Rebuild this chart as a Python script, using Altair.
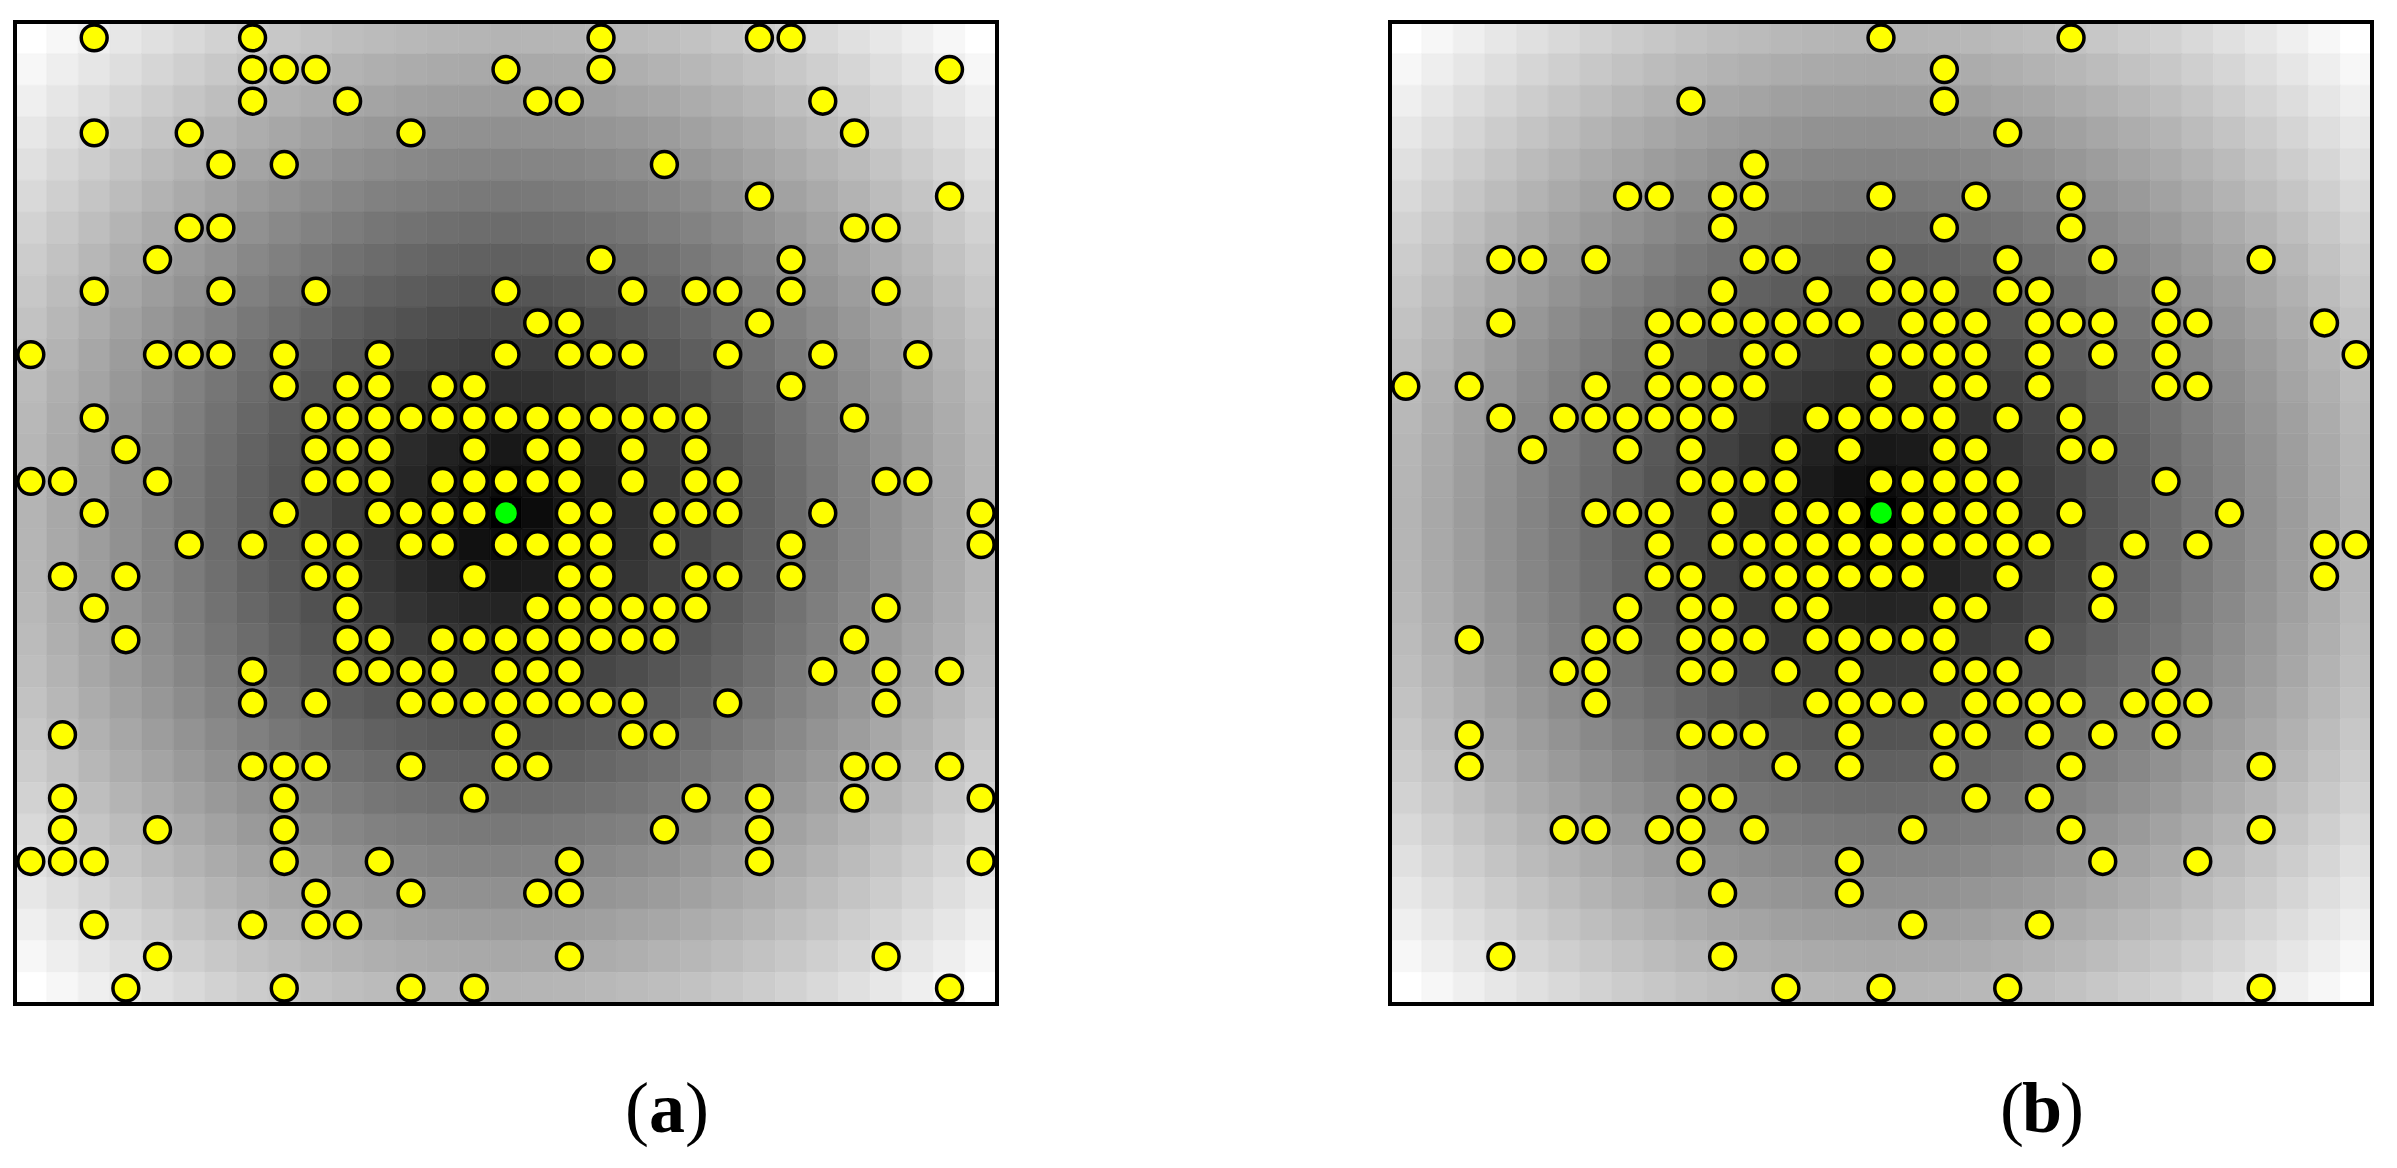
import altair as alt
import numpy as np
import pandas as pd

N = 31
CENTER = 15

# occupied cells per row (column indices), panel (a)
A_ROWS = [
    [2, 7, 18, 23, 24],
    [7, 8, 9, 15, 18, 29],
    [7, 10, 16, 17, 25],
    [2, 5, 12, 26],
    [6, 8, 20],
    [23, 29],
    [5, 6, 26, 27],
    [4, 18, 24],
    [2, 6, 9, 15, 19, 21, 22, 24, 27],
    [16, 17, 23],
    [0, 4, 5, 6, 8, 11, 15, 17, 18, 19, 22, 25, 28],
    [8, 10, 11, 13, 14, 24],
    [2, 9, 10, 11, 12, 13, 14, 15, 16, 17, 18, 19, 20, 21, 26],
    [3, 9, 10, 11, 14, 16, 17, 19, 21],
    [0, 1, 4, 9, 10, 11, 13, 14, 15, 16, 17, 19, 21, 22, 27, 28],
    [2, 8, 11, 12, 13, 14, 17, 18, 20, 21, 22, 25, 30],
    [5, 7, 9, 10, 12, 13, 15, 16, 17, 18, 20, 24, 30],
    [1, 3, 9, 10, 14, 17, 18, 21, 22, 24],
    [2, 10, 16, 17, 18, 19, 20, 21, 27],
    [3, 10, 11, 13, 14, 15, 16, 17, 18, 19, 20, 26],
    [7, 10, 11, 12, 13, 15, 16, 17, 25, 27, 29],
    [7, 9, 12, 13, 14, 15, 16, 17, 18, 19, 22, 27],
    [1, 15, 19, 20],
    [7, 8, 9, 12, 15, 16, 26, 27, 29],
    [1, 8, 14, 21, 23, 26, 30],
    [1, 4, 8, 20, 23],
    [0, 1, 2, 8, 11, 17, 23, 30],
    [9, 12, 16, 17],
    [2, 7, 9, 10],
    [4, 17, 27],
    [3, 8, 12, 14, 29],
]

# occupied cells per row (column indices), panel (b)
B_ROWS = [
    [15, 21],
    [17],
    [9, 17],
    [19],
    [11],
    [7, 8, 10, 11, 15, 18, 21],
    [10, 17, 21],
    [3, 4, 6, 11, 12, 15, 19, 22, 27],
    [10, 13, 15, 16, 17, 19, 20, 24],
    [3, 8, 9, 10, 11, 12, 13, 14, 16, 17, 18, 20, 21, 22, 24, 25, 29],
    [8, 11, 12, 15, 16, 17, 18, 20, 22, 24, 30],
    [0, 2, 6, 8, 9, 10, 11, 15, 17, 18, 20, 24, 25],
    [3, 5, 6, 7, 8, 9, 10, 13, 14, 15, 16, 17, 19, 21],
    [4, 7, 9, 12, 14, 17, 18, 21, 22],
    [9, 10, 11, 12, 15, 16, 17, 18, 19, 24],
    [6, 7, 8, 10, 12, 13, 14, 16, 17, 18, 19, 21, 26],
    [8, 10, 11, 12, 13, 14, 15, 16, 17, 18, 19, 20, 23, 25, 29, 30],
    [8, 9, 11, 12, 13, 14, 15, 16, 19, 22, 29],
    [7, 9, 10, 12, 13, 17, 18, 22],
    [2, 6, 7, 9, 10, 11, 13, 14, 15, 16, 17, 20],
    [5, 6, 9, 10, 12, 14, 17, 18, 19, 24],
    [6, 13, 14, 15, 16, 18, 19, 20, 21, 23, 24, 25],
    [2, 9, 10, 11, 14, 17, 18, 20, 22, 24],
    [2, 12, 14, 17, 21, 27],
    [9, 10, 18, 20],
    [5, 6, 8, 9, 11, 16, 21, 27],
    [9, 14, 22, 25],
    [10, 14],
    [16, 20],
    [3, 10],
    [12, 15, 19, 27],
]

PANEL_LETTERS = ["a", "b"]

SIZE = 982
DMAX = float(np.sqrt(2) * CENTER)

# grid of cells, grey level from distance to the centre cell
rr, cc = np.meshgrid(np.arange(N), np.arange(N), indexing="ij")
grid = pd.DataFrame({"col": cc.ravel(), "row": rr.ravel()})
grid["dist"] = np.sqrt((grid["row"] - CENTER) ** 2 + (grid["col"] - CENTER) ** 2)
grid["x0"] = grid["col"] - 0.5
grid["x1"] = grid["col"] + 0.5
grid["y0"] = grid["row"] - 0.5
grid["y1"] = grid["row"] + 0.5

xs = alt.Scale(domain=[-0.5, N - 0.5], nice=False, zero=False)
ys = alt.Scale(domain=[-0.5, N - 0.5], nice=False, zero=False, reverse=True)
gray = alt.Scale(domain=[0, DMAX], range=["#000000", "#ffffff"], interpolate="rgb")


def points_df(rows):
    recs = []
    for r, cols in enumerate(rows):
        for c in cols:
            recs.append({"row": r, "col": c})
    return pd.DataFrame(recs)


def panel(rows, letter):
    heat = alt.Chart(grid).mark_rect(strokeWidth=0.6).encode(
        x=alt.X("x0:Q", scale=xs, axis=None),
        x2="x1:Q",
        y=alt.Y("y0:Q", scale=ys, axis=None),
        y2="y1:Q",
        color=alt.Color("dist:Q", scale=gray, legend=None),
        stroke=alt.Stroke("dist:Q", scale=gray, legend=None),
    )
    pts = alt.Chart(points_df(rows)).mark_circle(
        size=670, fill="#ffff00", stroke="#000000", strokeWidth=3.5, opacity=1
    ).encode(
        x=alt.X("col:Q", scale=xs, axis=None),
        y=alt.Y("row:Q", scale=ys, axis=None),
    )
    ctr = alt.Chart(pd.DataFrame({"row": [CENTER], "col": [CENTER]})).mark_circle(
        size=465, fill="#00ff00", opacity=1
    ).encode(
        x=alt.X("col:Q", scale=xs, axis=None),
        y=alt.Y("row:Q", scale=ys, axis=None),
    )
    frame = alt.Chart(pd.DataFrame({"k": [0]})).mark_rect(
        filled=False, stroke="#000000", strokeWidth=4
    ).encode(
        x=alt.value(0), x2=alt.value(SIZE), y=alt.value(0), y2=alt.value(SIZE)
    )
    font = "Liberation Serif"
    fs = 72
    base_y = 1110
    lp = alt.Chart(pd.DataFrame({"t": ["("]})).mark_text(
        font=font, fontSize=fs, align="right", baseline="alphabetic", color="black"
    ).encode(text="t:N", x=alt.value(634), y=alt.value(base_y))
    lt = alt.Chart(pd.DataFrame({"t": [letter]})).mark_text(
        font=font, fontSize=fs, fontWeight="bold", align="center", baseline="alphabetic", color="black"
    ).encode(text="t:N", x=alt.value(652), y=alt.value(base_y))
    rp = alt.Chart(pd.DataFrame({"t": [")"]})).mark_text(
        font=font, fontSize=fs, align="left", baseline="alphabetic", color="black"
    ).encode(text="t:N", x=alt.value(670), y=alt.value(base_y))
    return alt.layer(heat, pts, ctr, frame, lp, lt, rp).properties(width=SIZE, height=SIZE)


chart = alt.hconcat(
    panel(A_ROWS, PANEL_LETTERS[0]),
    panel(B_ROWS, PANEL_LETTERS[1]),
    spacing=393,
    bounds="flush",
).properties(
    padding={"left": 2, "top": 9, "right": 5, "bottom": 5},
    background="white",
).configure_view(strokeWidth=0)

chart.save("out.html", embed_options={"renderer": "svg", "actions": False})
